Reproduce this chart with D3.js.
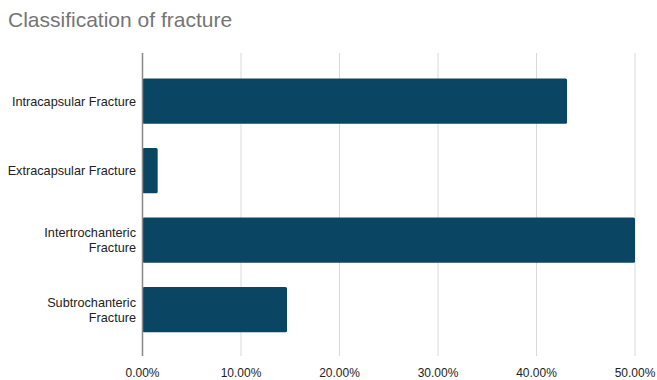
<!DOCTYPE html>
<html>
<head>
<meta charset="utf-8">
<script src="https://cdn.jsdelivr.net/npm/d3@7"></script>
<style>
  body { margin: 0; background: #fff; }
  svg { display: block; font-family: "Liberation Sans", Arial, sans-serif; }
</style>
</head>
<body>
<div id="chart"></div>
<script>
const WIDTH = 657;
const HEIGHT = 380;

// Data.
const categories = [
    ["Intracapsular Fracture"],
    ["Extracapsular Fracture"],
    ["Intertrochanteric", "Fracture"],
    ["Subtrochanteric", "Fracture"]
];
const shares = [0.431, 0.0154, 0.50, 0.1467];
const tickValues = [0, 0.1, 0.2, 0.3, 0.4, 0.5];

const keys = categories.map(c => c.join(" "));

const svg = d3.select("#chart")
    .append("svg")
    .attr("width", WIDTH)
    .attr("height", HEIGHT);

svg.append("rect")
    .attr("width", WIDTH)
    .attr("height", HEIGHT)
    .attr("fill", "#ffffff");

svg.append("text")
    .attr("x", 8)
    .attr("y", 27)
    .style("font-size", "21px")
    .style("fill", "#757575")
    .text("Classification of fracture");

const x = d3.scaleLinear()
    .domain([0, 0.5])
    .range([142.5, 635]);

const y = d3.scaleBand()
    .domain(keys)
    .range([66.3, 344.5])
    .paddingInner(0.35)
    .paddingOuter(0.175);

const plotTop = 53;
const plotBottom = 356;

// Vertical grid lines.
svg.append("g")
    .selectAll("line")
    .data(tickValues.slice(1))
    .join("line")
    .attr("x1", d => x(d))
    .attr("x2", d => x(d))
    .attr("y1", plotTop)
    .attr("y2", plotBottom)
    .attr("stroke", "#d9d9d9")
    .attr("stroke-width", 1);

// Bars.
svg.append("g")
    .selectAll("rect")
    .data(shares)
    .join("rect")
    .attr("x", x(0))
    .attr("y", (d, i) => y(keys[i]))
    .attr("width", d => x(d) - x(0))
    .attr("height", y.bandwidth())
    .attr("rx", 1.5)
    .attr("fill", "#0a4663");

// Zero baseline.
svg.append("line")
    .attr("x1", x(0))
    .attr("x2", x(0))
    .attr("y1", plotTop)
    .attr("y2", plotBottom)
    .attr("stroke", "#888888")
    .attr("stroke-width", 1.5);

// Category labels (wrapped over one or two lines).
const labels = svg.append("g")
    .selectAll("text")
    .data(categories)
    .join("text")
    .attr("text-anchor", "end")
    .style("font-size", "12.7px")
    .style("fill", "#222222");

labels.each(function (lines, i) {
    const cy = y(keys[i]) + y.bandwidth() / 2;
    const startY = cy - (lines.length - 1) * 15 / 2;
    d3.select(this).selectAll("tspan")
        .data(lines)
        .join("tspan")
        .attr("x", 136)
        .attr("y", (d, j) => startY + j * 15)
        .attr("dy", "0.35em")
        .text(d => d);
});

// X tick labels.
svg.append("g")
    .selectAll("text")
    .data(tickValues)
    .join("text")
    .attr("x", d => x(d))
    .attr("y", 377)
    .attr("text-anchor", "middle")
    .style("font-size", "12px")
    .style("fill", "#222222")
    .text(d => d3.format(".2%")(d));
</script>
</body>
</html>
